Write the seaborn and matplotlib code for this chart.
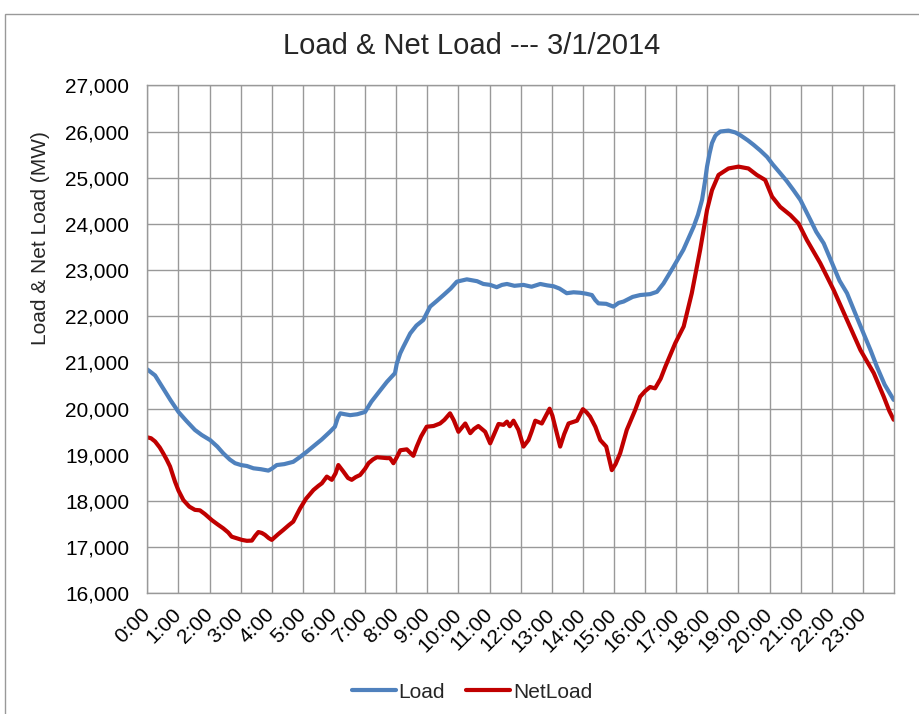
import pandas as pd
import seaborn as sns
import matplotlib.pyplot as plt
from matplotlib.patches import Rectangle
from matplotlib.ticker import FuncFormatter

# Load curve (hour of day, MW)
load_hours = [0.0, 0.25, 0.5, 0.75, 1.0, 1.25, 1.53, 1.75, 2.02, 2.25, 2.44, 2.65, 2.82, 3.01, 3.2,
              3.41, 3.65, 3.89, 4.0, 4.16, 4.4, 4.69, 4.9, 5.13, 5.4, 5.6, 5.87, 6.03, 6.12, 6.2,
              6.35, 6.52, 6.75, 7.0, 7.2, 7.49, 7.7, 7.96, 8.02, 8.13, 8.23, 8.45, 8.65, 8.87, 9.09,
              9.3, 9.52, 9.75, 9.95, 10.27, 10.6, 10.8, 11.02, 11.23, 11.4, 11.56, 11.8, 12.09, 12.35,
              12.63, 12.85, 13.06, 13.25, 13.48, 13.7, 13.91, 14.1, 14.29, 14.4, 14.5, 14.75, 14.98,
              15.15, 15.31, 15.6, 15.84, 16.16, 16.38, 16.59, 16.91, 17.23, 17.56, 17.7, 17.83, 17.92,
              17.99, 18.07, 18.15, 18.25, 18.3, 18.42, 18.68, 18.9, 19.06, 19.3, 19.49, 19.7, 19.92,
              20.1, 20.34, 20.55, 20.77, 20.99, 21.31, 21.5, 21.74, 22.06, 22.25, 22.49, 22.75, 23.02,
              23.25, 23.45, 23.7, 23.99]
load_mw = [20850, 20720, 20450, 20180, 19930, 19740, 19540, 19430, 19320, 19180, 19035, 18900, 18820, 18780, 18760,
           18710, 18690, 18660, 18700, 18780, 18800, 18850, 18950, 19070, 19220, 19330, 19500, 19610, 19800, 19900,
           19880, 19860, 19880, 19930, 20150, 20400, 20580, 20770, 20980, 21200, 21340, 21630, 21800, 21920, 22210,
           22330, 22460, 22600, 22750, 22800, 22760, 22700, 22680, 22630, 22680, 22700, 22660, 22680, 22640,
           22700, 22670, 22650, 22600, 22500, 22520, 22510, 22490, 22460, 22350, 22280, 22270, 22210,
           22290, 22320, 22420, 22460, 22480, 22530, 22710, 23070, 23440, 23940, 24200, 24520, 24900,
           25240, 25520, 25750, 25900, 25940, 26000, 26020, 25980, 25920, 25810, 25710, 25590, 25450,
           25290, 25100, 24930, 24730, 24520, 24090, 23830, 23580, 23070, 22770, 22500, 22070, 21630,
           21260, 20910, 20520, 20190]

# NetLoad curve
net_hours = [0.0, 0.12, 0.25, 0.4, 0.51, 0.62, 0.73, 0.89, 1.0, 1.16, 1.35, 1.53, 1.69, 1.85, 2.07,
             2.25, 2.44, 2.6, 2.71, 2.9, 3.04, 3.2, 3.36, 3.47, 3.57, 3.68, 3.78, 3.9, 4.0, 4.2,
             4.37, 4.55, 4.69, 4.8, 4.91, 5.1, 5.34, 5.5, 5.61, 5.77, 5.93, 6.05, 6.14, 6.3, 6.45,
             6.57, 6.7, 6.84, 7.0, 7.11, 7.25, 7.38, 7.55, 7.7, 7.8, 7.91, 8.02, 8.13, 8.34, 8.55,
             8.66, 8.8, 8.98, 9.2, 9.41, 9.55, 9.73, 9.85, 10.0, 10.22, 10.38, 10.5, 10.64, 10.86,
             11.02, 11.15, 11.29, 11.45, 11.56, 11.65, 11.77, 11.93, 12.09, 12.25, 12.35, 12.47,
             12.68, 12.93, 13.02, 13.11, 13.27, 13.4, 13.54, 13.81, 14.0, 14.12, 14.23, 14.4, 14.56,
             14.75, 14.85, 14.93, 15.05, 15.2, 15.41, 15.68, 15.84, 16.0, 16.16, 16.32, 16.5, 16.65,
             16.97, 17.24, 17.5, 17.77, 17.99, 18.15, 18.36, 18.68, 19.0, 19.32, 19.59, 19.86, 20.08,
             20.34, 20.67, 20.93, 21.2, 21.63, 22.06, 22.49, 22.92, 23.35, 23.67, 23.85, 23.99]
net_mw = [19380, 19360, 19290, 19160, 19035, 18900, 18750, 18420, 18230, 18020, 17880, 17810, 17800, 17720, 17590,
          17500, 17410, 17320, 17230, 17190, 17160, 17140, 17145, 17250, 17330, 17310, 17270, 17200, 17160, 17280,
          17375, 17480, 17555, 17700, 17840, 18050, 18240, 18330, 18385, 18530, 18460, 18600, 18780, 18640, 18500,
          18460, 18520, 18565, 18700, 18820, 18900, 18950, 18940, 18930, 18930, 18820, 18950, 19100, 19120, 18980,
          19180, 19400, 19610, 19625, 19680, 19760, 19900, 19750, 19500, 19680, 19470, 19560, 19625, 19500,
          19250, 19450, 19670, 19650, 19720, 19620, 19740, 19540, 19180, 19320, 19500, 19740,
          19680, 20000, 19850, 19610, 19180, 19450, 19680, 19740, 19990, 19920, 19830, 19610, 19320,
          19180, 18900, 18670, 18800, 19040, 19540, 19970, 20260, 20380, 20470, 20440, 20650, 20910,
          21420, 21780, 22500, 23440, 24300, 24730, 25060, 25200, 25240, 25200, 25060, 24950, 24590,
          24370, 24190, 24010, 23650, 23150, 22570, 21920, 21270, 20770, 20260, 19950, 19760]

hour_labels = [f"{h}:00" for h in range(24)]
y_ticks = list(range(16000, 27001, 1000))

df = pd.concat([
    pd.DataFrame({"Hour": load_hours, "MW": load_mw, "Series": "Load"}),
    pd.DataFrame({"Hour": net_hours, "MW": net_mw, "Series": "NetLoad"}),
])

sns.set_style("white")
plt.rcParams['font.family'] = ['Liberation Sans', 'DejaVu Sans']
grid_col = "#999999"

fig = plt.figure(figsize=(9.19, 7.14), dpi=100)
ax = fig.add_axes([0.1603, 0.1688, 0.8125, 0.7117])

sns.lineplot(data=df, x="Hour", y="MW", hue="Series",
             palette={"Load": "#4F81BD", "NetLoad": "#C00000"},
             linewidth=3, ax=ax, legend=False,
             solid_joinstyle="round", solid_capstyle="round")

ax.set_xlim(0, 24)
ax.set_ylim(16000, 27000)
ax.set_xticks(range(24))
ax.set_xticklabels(hour_labels, rotation=45, ha="right", va="center", rotation_mode="anchor")
ax.set_yticks(y_ticks)
ax.yaxis.set_major_formatter(FuncFormatter(lambda v, p: f"{int(v):,}"))

# excel-ish gridlines and frame
ax.grid(True, color=grid_col, linewidth=1.0)
ax.set_axisbelow(True)
for s in ax.spines.values():
    s.set_color(grid_col)
    s.set_linewidth(1.0)
ax.tick_params(axis="both", direction="out", length=5, color=grid_col, width=1.0,
               labelsize=15, labelcolor="black")
ax.tick_params(axis="y", pad=8)
ax.tick_params(axis="x", pad=8)

ax.set_xlabel("")
ax.set_ylabel("Load & Net Load (MW)", fontsize=15)
ax.yaxis.set_label_coords(-0.13, 0.70)

fig.text(472 / 919, 1 - 46 / 714, "Load & Net Load --- 3/1/2014", ha="center", va="center", fontsize=21)

handles = ax.get_lines()[:2]
fig.legend(handles, ["Load", "NetLoad"], loc="center", bbox_to_anchor=(472 / 919, 1 - 692 / 714),
           ncol=2, frameon=False, fontsize=15, handlelength=2.1, handletextpad=0.15, columnspacing=1.0)

# outer chart border (runs off the right and bottom of the image)
fig.add_artist(Rectangle((5 / 919, -0.05), 1.1, 1 - 14 / 714 + 0.05, transform=fig.transFigure,
                         fill=False, edgecolor=grid_col, linewidth=1.0))

fig.savefig("out.png", dpi=100)
